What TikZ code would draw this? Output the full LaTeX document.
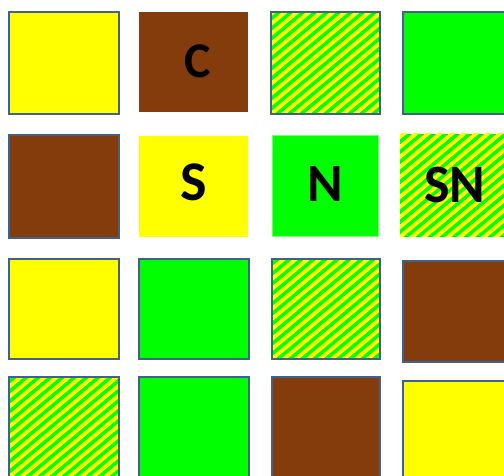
\documentclass[tikz,border=0pt]{standalone}
\usepackage{fontspec}
\setmainfont{Carlito}
\definecolor{yel}{RGB}{255,255,0}
\definecolor{brn}{RGB}{132,60,12}
\definecolor{grn}{RGB}{0,255,0}
\definecolor{edge}{RGB}{66,96,140}
\definecolor{lgrn}{RGB}{120,255,120}
\tikzset{
  sq/.style 2 args={anchor=north west, inner sep=0pt, outer sep=0pt,
    minimum width=#1, minimum height=#2, line width=2pt},
  bord/.style={draw=edge},
  lab/.style={font=\fontsize{#1}{#1}\selectfont\bfseries},
  hatch/.style={fill=grn, path picture={
      \foreach \i in {-13,...,11}
        \draw[yel, line width=3.9pt]
          ([xshift=\i*12pt-12pt, yshift=-10pt]path picture bounding box.south west)
          -- ++(170pt,141.7pt);
    }},
}
\begin{document}
\begin{tikzpicture}[x=1pt,y=-1pt]
\useasboundingbox (0,0) rectangle (504,476);
\fill[white] (0,0) rectangle (504,476);
% row 1
\node[sq={110pt}{102pt}, fill=yel, bord] (a1) at (9,12) {};
\node[sq={109pt}{100pt}, fill=brn, lab=50, text height=32pt, text depth=0pt] (a2) at (139,12) {\hspace{8pt}C};
\node[sq={109pt}{102pt}, hatch, bord] (a3) at (271,12) {};
\node[sq={110pt}{102pt}, fill=grn, bord] (a4) at (403,12) {};
% row 2
\node[sq={110pt}{103pt}, fill=brn, bord] (b1) at (9,135) {};
\node[sq={109pt}{101pt}, fill=yel, lab=56, text height=36pt, text depth=8pt] (b2) at (139,136) {S};
\node[sq={106pt}{101pt}, fill=grn, draw=lgrn, line width=1pt, lab=54, text height=35pt, text depth=5pt] (b3) at (272,136) {N};
\node[sq={110pt}{103pt}, hatch, lab=54, text height=35pt, text depth=0pt] (b4) at (400,134) {SN};
% row 3
\node[sq={110pt}{100pt}, fill=yel, bord] (c1) at (9,259) {};
\node[sq={110pt}{100pt}, fill=grn, bord] (c2) at (139,259) {};
\node[sq={108pt}{100pt}, hatch, bord] (c3) at (272,259) {};
\node[sq={110pt}{101pt}, fill=brn, bord] (c4) at (403,261) {};
% row 4
\node[sq={110pt}{110pt}, hatch, bord] (d1) at (9,377) {};
\node[sq={110pt}{110pt}, fill=grn, bord] (d2) at (139,377) {};
\node[sq={108pt}{110pt}, fill=brn, bord] (d3) at (272,377) {};
\node[sq={110pt}{110pt}, fill=yel, bord] (d4) at (403,381) {};
\end{tikzpicture}
\end{document}
